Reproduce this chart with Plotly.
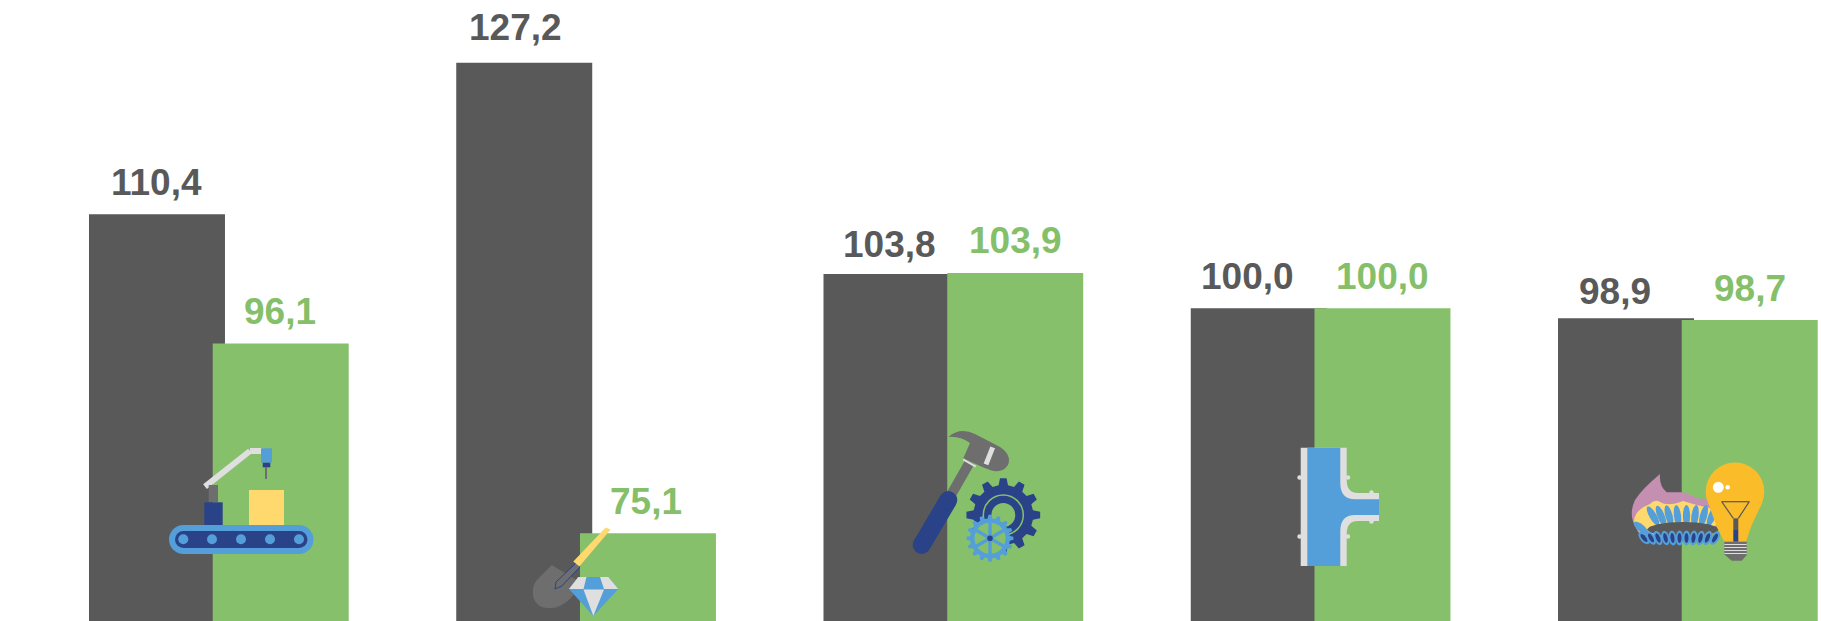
import math
import re
import plotly.graph_objects as go

# ---- data ----
group_index = [0, 1, 2, 3, 4]
dark_values = [110.4, 127.2, 103.8, 100.0, 98.9]
green_values = [96.1, 75.1, 103.9, 100.0, 98.7]
dark_labels = ["110,4", "127,2", "103,8", "100,0", "98,9"]
green_labels = ["96,1", "75,1", "103,9", "100,0", "98,7"]

# ---- style / layout ----
W, H = 1821, 621
DARK = "#595959"
GREEN = "#87C06B"
GREEN_TXT = "#85BF6A"
NAVY = "#2A4288"
BLUE = "#549FD9"
LIGHT = "#DFDFDF"
GRAY = "#6E6E6E"
YEL = "#FFD96E"
BAR_W = 0.3703
DARK_OFF = -0.3536
GREEN_OFF = -0.0167
X_RANGE = [-0.5959, 4.3625]
Y_RANGE = [65.37, 134.14]
# label centre offsets in px from the top-centre of the bar: (dx, dy up)
dark_label_off = [(0, 32), (-9, 35), (-2, 29.5), (-11, 31.5), (-11, 26.5)]
green_label_off = [(-1, 32), (-2, 32), (0, 32.5), (0, 31.5), (0, 31.5)]

fig = go.Figure()
fig.add_bar(x=group_index, y=dark_values, width=BAR_W, offset=DARK_OFF,
            marker=dict(color=DARK, line_width=0), hoverinfo="skip")
fig.add_bar(x=group_index, y=green_values, width=BAR_W, offset=GREEN_OFF,
            marker=dict(color=GREEN, line_width=0), hoverinfo="skip")

ann = []
for i in group_index:
    for vals, labs, off, o, col in (
        (dark_values, dark_labels, dark_label_off, DARK_OFF, DARK),
        (green_values, green_labels, green_label_off, GREEN_OFF, GREEN_TXT),
    ):
        ann.append(dict(x=i + o + BAR_W / 2, y=vals[i], xref="x", yref="y",
                        text=labs[i], showarrow=False, xanchor="center", yanchor="middle",
                        xshift=off[i][0], yshift=off[i][1],
                        font=dict(family="Liberation Sans", size=37, color=col, weight="bold")))

# ---- pictogram helpers: pixel coordinates of the 1821x621 canvas -> paper ----
shapes = []


def px(x):
    return x / W


def py(y):
    return 1 - y / H


def path(d, fill=None, line=None, lw=0):
    out, is_x = [], True
    for tok in re.findall(r"[A-Za-z]|-?[\d.]+", d):
        if tok.isalpha():
            out.append(tok)
            is_x = True
        else:
            v = float(tok)
            out.append(f"{px(v) if is_x else py(v):.5f}")
            is_x = not is_x
    shapes.append(dict(type="path", xref="paper", yref="paper", path=" ".join(out),
                       fillcolor=fill or "rgba(0,0,0,0)", line=dict(color=line or "rgba(0,0,0,0)", width=lw)))


def poly(pts, fill=None, line=None, lw=0):
    path("M " + " L ".join(f"{x} {y}" for x, y in pts) + " Z", fill, line, lw)


def rect(x0, y0, x1, y1, fill):
    shapes.append(dict(type="rect", xref="paper", yref="paper", x0=px(x0), x1=px(x1), y0=py(y0), y1=py(y1),
                       fillcolor=fill, line_width=0))


def circ(cx, cy, r, fill=None, line=None, lw=0):
    shapes.append(dict(type="circle", xref="paper", yref="paper", x0=px(cx - r), x1=px(cx + r),
                       y0=py(cy + r), y1=py(cy - r), fillcolor=fill or "rgba(0,0,0,0)",
                       line=dict(color=line or "rgba(0,0,0,0)", width=lw)))


def seg(x0, y0, x1, y1, col, lw):
    shapes.append(dict(type="line", xref="paper", yref="paper", x0=px(x0), x1=px(x1), y0=py(y0), y1=py(y1),
                       line=dict(color=col, width=lw)))


def pill(x0, y0, x1, y1, w, col):
    seg(x0, y0, x1, y1, col, w)
    circ(x0, y0, w / 2, col)
    circ(x1, y1, w / 2, col)


def gear(cx, cy, r_in, r_out, n, fill):
    pts = []
    for k in range(n):
        a = 2 * math.pi * k / n
        s = 2 * math.pi / n
        for da, r in ((-0.30, r_in), (-0.17, r_out), (0.17, r_out), (0.30, r_in)):
            t = a + da * s
            pts.append((round(cx + r * math.cos(t), 2), round(cy + r * math.sin(t), 2)))
    poly(pts, fill)


def petal(cx, cy, a, b, deg, fill):
    t = math.radians(deg)
    pts = []
    for k in range(16):
        u = 2 * math.pi * k / 16
        ex, ey = a * math.cos(u), b * math.sin(u)
        pts.append((round(cx + ex * math.cos(t) - ey * math.sin(t), 2),
                    round(cy + ex * math.sin(t) + ey * math.cos(t), 2)))
    poly(pts, fill)


# -- conveyor robot --
seg(205, 486.7, 250, 451, LIGHT, 6)
seg(250, 451, 262, 451, LIGHT, 6)
rect(208.7, 485, 218, 502.3, GRAY)
rect(204.3, 502.3, 222.7, 525, NAVY)
rect(249, 490, 284, 525, YEL)
rect(261, 448.3, 272, 462.7, BLUE)
rect(262.7, 462.7, 270.3, 467.3, NAVY)
seg(266, 467, 266, 479, GRAY, 2)
pill(183.5, 539.5, 299, 539.5, 29, BLUE)
pill(183.5, 539.5, 299, 539.5, 17, NAVY)
for cx in (183.3, 212, 241, 270, 299):
    circ(cx, 539.3, 5, BLUE)

# -- shovel and diamond --
path("M 551.7 565 L 580 582 Q 574 601 556 607.5 Q 538 611 533.5 598 Q 531 586 537 580 Z", GRAY)
poly([(555, 589), (556, 582), (576, 563), (580, 567), (561.7, 586)], GRAY, NAVY, 1)
poly([(573.3, 561.5), (605.7, 527.5), (610.7, 529.5), (579.3, 566.5)], YEL)
poly([(578.3, 577), (608.3, 577), (618.3, 589), (593.3, 616), (569, 589)], BLUE)
poly([(578.3, 577), (586.5, 577), (583.5, 589), (569, 589)], LIGHT)
poly([(600, 577), (608.3, 577), (618.3, 589), (604, 589)], LIGHT)
poly([(583.5, 589.5), (604, 589.5), (593.3, 616)], LIGHT)

# -- hammer and gears --
seg(970, 461.7, 950, 496.7, GRAY, 10)
seg(963.3, 459.3, 975.7, 466.7, LIGHT, 2)
path("M 948.3 437 Q 960 427 975 434 L 1000 447 Q 1012 455 1008 465 Q 1002 474 990 470 L 981.7 466.7 "
     "L 963.3 458.3 L 970 443 Q 960 436 948.3 437 Z", GRAY)
seg(992.7, 447.3, 986, 464.3, LIGHT, 5)
pill(948.3, 500, 921.7, 545, 18, NAVY)
gear(1003.3, 515, 30, 37, 12, NAVY)
circ(1003.3, 515, 20, None, GREEN, 1.5)
circ(1003.3, 515, 12, GREEN)
gear(990, 538.3, 20, 23.5, 16, BLUE)
circ(990, 538.3, 15.5, GREEN)
for deg in (0, 60, 120):
    t = math.radians(deg + 30)
    seg(990 - 16 * math.cos(t), 538.3 - 16 * math.sin(t), 990 + 16 * math.cos(t), 538.3 + 16 * math.sin(t), BLUE, 3.5)
circ(990, 538.3, 2.8, NAVY)

# -- pipe tee --
for cx, cy in ((1299.5, 477.5), (1299.5, 536.5), (1348, 477.5), (1348, 536.5), (1371.5, 492.5), (1371.5, 521.5)):
    circ(cx, cy, 2.2, LIGHT)
path("M 1300.7 447.7 L 1346.7 447.7 L 1346.7 480 Q 1346.7 493 1358 493 L 1379 493 L 1379 521 L 1358 521 "
     "Q 1346.7 521 1346.7 534 L 1346.7 566 L 1300.7 566 Z", LIGHT)
path("M 1307.3 447.7 L 1340.3 447.7 L 1340.3 483 Q 1340.3 499.3 1355 499.3 L 1379 499.3 L 1379 515 L 1355 515 "
     "Q 1340.3 515 1340.3 531 L 1340.3 566 L 1307.3 566 Z", BLUE)

# -- gas flame and light bulb --
path("M 1660 474 Q 1659 486 1666.7 492.3 L 1683.3 492.3 Q 1692 495 1696.7 498.3 L 1715 500 L 1715 530 "
     "L 1650 539 Q 1640 538 1636 528 Q 1628 515 1635 500 Q 1642 489 1660 474 Z", "#C48FB0")
path("M 1634 522 Q 1634 510 1650 504 Q 1655 499 1660 502 Q 1668 507 1683 501 Q 1695 505 1710 508 L 1718 525 "
     "L 1650 540 Q 1640 537 1634 522 Z", YEL)
for cx, deg in ((1653, -30), (1661, -22), (1669, -15), (1677.5, -7), (1686.5, 0),
                (1695, 7), (1703.5, 15), (1712, 22)):
    petal(cx, 516, 3.6, 11, deg, BLUE)
petal(1641, 528, 3.6, 9, -50, BLUE)
petal(1683, 529.5, 36, 7.5, 0, DARK)
for cx, deg in ((1644, -40), (1651, -30), (1658, -22), (1665.5, -14), (1672.5, -7), (1679.5, 0), (1686.5, 0),
                (1693.5, 7), (1700.5, 14), (1707.5, 22), (1715, 30)):
    petal(cx, 538, 3.9, 7.5, deg, BLUE)
    petal(cx, 538, 2.0, 5.0, deg, NAVY)
circ(1735, 491.7, 29.3, "#FBBC2A")
poly([(1709, 505), (1716.7, 526.7), (1724.3, 541.7), (1746, 541.7), (1751, 526.7), (1761, 505)], "#FBBC2A")
circ(1718.3, 487.3, 5.5, "white")
circ(1727.7, 487.3, 2.3, "white")
seg(1721.7, 501.7, 1749.3, 501.7, DARK, 1.2)
seg(1721.7, 501.7, 1733.3, 518.3, DARK, 1.2)
seg(1749.3, 501.7, 1738.3, 518.3, DARK, 1.2)
rect(1733.3, 518.3, 1738.3, 530, DARK)
rect(1733.3, 530, 1738.3, 541.7, NAVY)
rect(1724.3, 541.7, 1746.7, 555, GRAY)
for yy in (544.5, 547.5, 550.5, 553.5):
    seg(1724.3, yy, 1746.7, yy, LIGHT, 1)
poly([(1725, 555), (1731.7, 560.7), (1741.7, 560.7), (1746.7, 555)], GRAY)

fig.update_layout(
    width=W, height=H, autosize=False,
    barmode="overlay", showlegend=False,
    margin=dict(l=0, r=0, t=0, b=0, pad=0),
    paper_bgcolor="white", plot_bgcolor="white",
    xaxis=dict(range=X_RANGE, visible=False, fixedrange=True),
    yaxis=dict(range=Y_RANGE, visible=False, fixedrange=True),
    annotations=ann, shapes=shapes,
)
fig.write_html("out.html", config=dict(displayModeBar=False),
               post_script="document.body.style.margin='0';")
